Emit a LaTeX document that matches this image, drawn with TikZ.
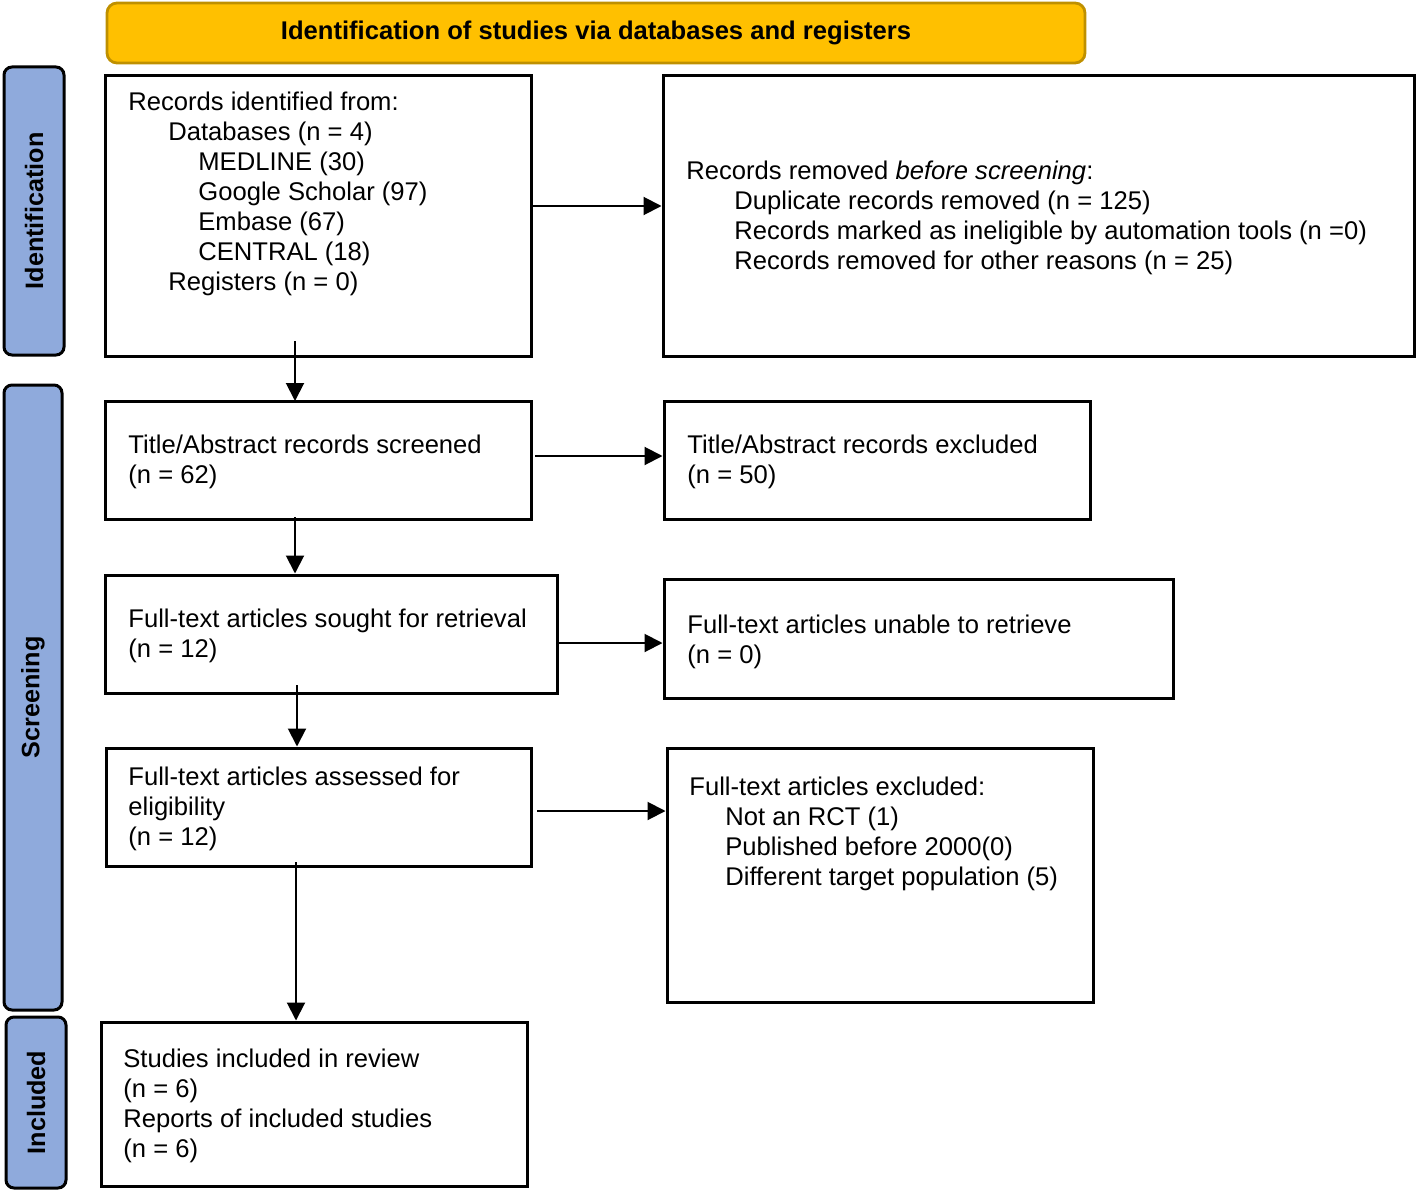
\documentclass[tikz,border=0pt]{standalone}
\usepackage{fontspec}
\setmainfont{Liberation Sans}
\usetikzlibrary{fit,arrows.meta}
\definecolor{hdrfill}{HTML}{FFC000}
\definecolor{hdrline}{HTML}{BF9000}
\definecolor{sidefill}{HTML}{8FAADC}
\tikzset{
  x=0.5pt, y=-0.5pt,
  boxframe/.style={draw=black, line width=1.5pt, inner sep=0pt, fill=white},
  sidebox/.style={draw=black, line width=1.5pt, inner sep=0pt, fill=sidefill, rounded corners=4pt},
  hdrbox/.style={draw=hdrline, line width=1.4pt, inner sep=0pt, fill=hdrfill, rounded corners=5pt},
  txt/.style={anchor=north west, inner sep=0pt, align=left, font=\fontsize{12.8}{15}\selectfont},
  sidetxt/.style={rotate=90, font=\fontsize{12.6}{14}\selectfont\bfseries, inner sep=0pt},
  flow/.style={-{Triangle[length=9pt,width=9pt]}, line width=1pt},
}
\begin{document}
\begin{tikzpicture}
\useasboundingbox (0,0) rectangle (1416,1192);
% header
\node[hdrbox, fit={(107,3)(1085,63)}] (hdr) {};
\node[font=\fontsize{12.8}{14}\selectfont\bfseries, inner sep=0pt] (hdrt) at (hdr.center) {Identification of studies via databases and registers};
% side labels
\node[sidebox, fit={(4,67)(64,355)}] (sid) {};
\node[sidetxt] (sidt) at (sid.center) {Identification};
\node[sidebox, fit={(4,385)(62,1010)}] (sscr) {};
\node[sidetxt] (sscrt) at (sscr.center) {Screening};
\node[sidebox, fit={(6,1017)(66,1188)}] (sinc) {};
\node[sidetxt] (sinct) at (sinc.center) {Included};
% boxes
\node[boxframe, fit={(105,76)(531,356)}] (b1) {};
\node[txt] (t1) at (128,89) {\strut Records identified from:\\
\hspace*{20pt}Databases (n = 4)\\
\hspace*{35pt}MEDLINE (30)\\
\hspace*{35pt}Google Scholar (97)\\
\hspace*{35pt}Embase (67)\\
\hspace*{35pt}CENTRAL (18)\\
\hspace*{20pt}Registers (n = 0)};
\node[boxframe, fit={(663,76)(1414,356)}] (b2) {};
\node[txt] (t2) at (686,158) {\strut Records removed \textit{before screening}:\\
\hspace*{24pt}Duplicate records removed (n = 125)\\
\hspace*{24pt}Records marked as ineligible by automation tools (n =0)\\
\hspace*{24pt}Records removed for other reasons (n = 25)};
\node[boxframe, fit={(105,401)(531,519)}] (b3) {};
\node[txt] (t3) at (128,432) {\strut Title/Abstract records screened\\(n = 62)};
\node[boxframe, fit={(664,401)(1090,519)}] (b4) {};
\node[txt] (t4) at (687,432) {\strut Title/Abstract records excluded\\(n = 50)};
\node[boxframe, fit={(105,575)(557,693)}] (b5) {};
\node[txt] (t5) at (128,606) {\strut Full-text articles sought for retrieval\\(n = 12)};
\node[boxframe, fit={(664,579)(1173,698)}] (b6) {};
\node[txt] (t6) at (687,612) {\strut Full-text articles unable to retrieve\\(n = 0)};
\node[boxframe, fit={(106,748)(531,866)}] (b7) {};
\node[txt] (t7) at (128,764) {\strut Full-text articles assessed for\\eligibility\\(n = 12)};
\node[boxframe, fit={(667,748)(1093,1002)}] (b8) {};
\node[txt] (t8) at (689,774) {\strut Full-text articles excluded:\\
\hspace*{18pt}Not an RCT (1)\\
\hspace*{18pt}Published before 2000(0)\\
\hspace*{18pt}Different target population (5)};
\node[boxframe, fit={(101,1022)(527,1186)}] (b9) {};
\node[txt] (t9) at (123,1046) {\strut Studies included in review\\(n = 6)\\Reports of included studies\\(n = 6)};
% arrows
\draw[flow] (b1.east |- 0,206) -- (b2.west |- 0,206);
\draw[flow] (295,341) -- (295,401);
\draw[flow] (535,456) -- (b4.west |- 0,456);
\draw[flow] (295,517) -- (b5.north -| 295,0);
\draw[flow] (b5.east |- 0,643) -- (b6.west |- 0,643);
\draw[flow] (297,685) -- (b7.north -| 297,0);
\draw[flow] (537,811) -- (b8.west |- 0,811);
\draw[flow] (296,862) -- (b9.north -| 296,0);
\end{tikzpicture}
\end{document}
